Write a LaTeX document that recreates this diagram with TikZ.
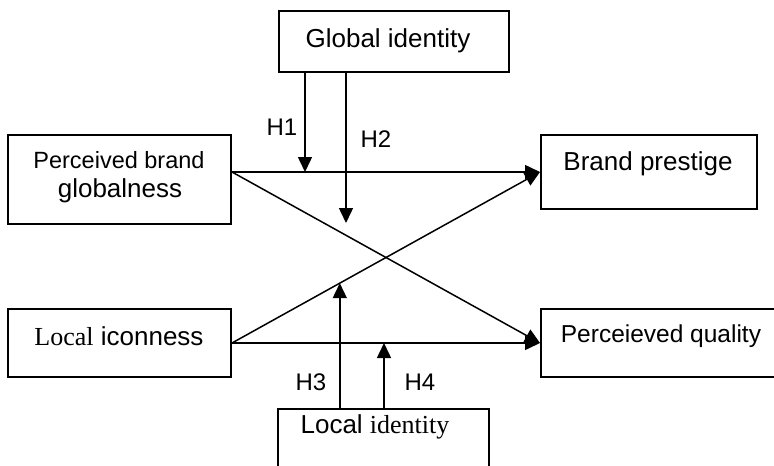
\documentclass[tikz,border=0pt]{standalone}
\usepackage{fontspec}
\setmainfont{Liberation Sans}
\newfontfamily\tnr{Liberation Serif}
\usetikzlibrary{arrows.meta,calc}
\begin{document}
\begin{tikzpicture}[x=1pt,y=-1pt,
  box/.style={draw,line width=2pt,rectangle,inner sep=0pt},
  lbl/.style={anchor=base,inner sep=0pt,font=\fontsize{26}{30}\selectfont},
  hlbl/.style={anchor=base,inner sep=0pt,font=\fontsize{24}{28}\selectfont},
  conn/.style={line width=1.5pt},
  arr/.style={conn,-{Triangle[length=15pt,width=14pt]}}
]
\useasboundingbox (0,0) rectangle (774,466);
\clip (0,0) rectangle (774,466);
% boxes
\node[box,minimum width=230pt,minimum height=61pt] (gi) at (394,41.5) {};
\node[box,minimum width=223pt,minimum height=89pt] (pbg) at (119.5,179.5) {};
\node[box,minimum width=216pt,minimum height=74pt] (bp) at (649,172) {};
\node[box,minimum width=239pt,minimum height=68pt] (pq) at (660.5,343) {};
\node[box,minimum width=223pt,minimum height=68pt] (li) at (119.5,343) {};
\node[box,minimum width=211pt,minimum height=69pt] (lid) at (383.5,443.5) {};
% texts
\node[lbl] (tgi) at (388,47) {Global identity};
\node[lbl,font=\fontsize{23.5}{28}\selectfont] (tpbg1) at (119,168) {Perceived brand};
\node[lbl] (tpbg2) at (120,197) {globalness};
\node[lbl] (tbp) at (648,170) {Brand prestige};
\node[lbl,font=\fontsize{24.5}{28}\selectfont] (tpq) at (661,342) {Perceieved quality};
\node[lbl] (tli) at (119,345) {{\tnr Local} iconness};
\node[lbl] (tlid) at (375,433) {Local {\tnr identity}};
\node[hlbl] (h1) at (282,135) {H1};
\node[hlbl] (h2) at (376,147) {H2};
\node[hlbl] (h3) at (311,390) {H3};
\node[hlbl] (h4) at (420,390) {H4};
% connectors
\coordinate (pbgout) at ([yshift=7.5pt]pbg.east);
\draw[arr] (pbgout) -- (bp.west);
\draw[arr] (pbgout) -- (pq.west);
\draw[arr] (li.east) -- (pq.west);
\draw[arr] (li.east) -- (bp.west);
% moderators
\coordinate (h1top) at ([xshift=-89pt]gi.south);
\coordinate (h2top) at ([xshift=-48pt]gi.south);
\coordinate (h2end) at (h2top |- 0,223);
\draw[arr] (h1top) -- (h1top |- bp.west);
\draw[arr] (h2top) -- (h2end);
\coordinate (h3end) at ($(li.east)!0.35!(bp.west)$);
\draw[arr] (h3end |- lid.north) -- (h3end);
\coordinate (h4bot) at ([xshift=0.5pt]lid.north);
\draw[arr] (h4bot) -- (h4bot |- li.east);
\end{tikzpicture}
\end{document}
